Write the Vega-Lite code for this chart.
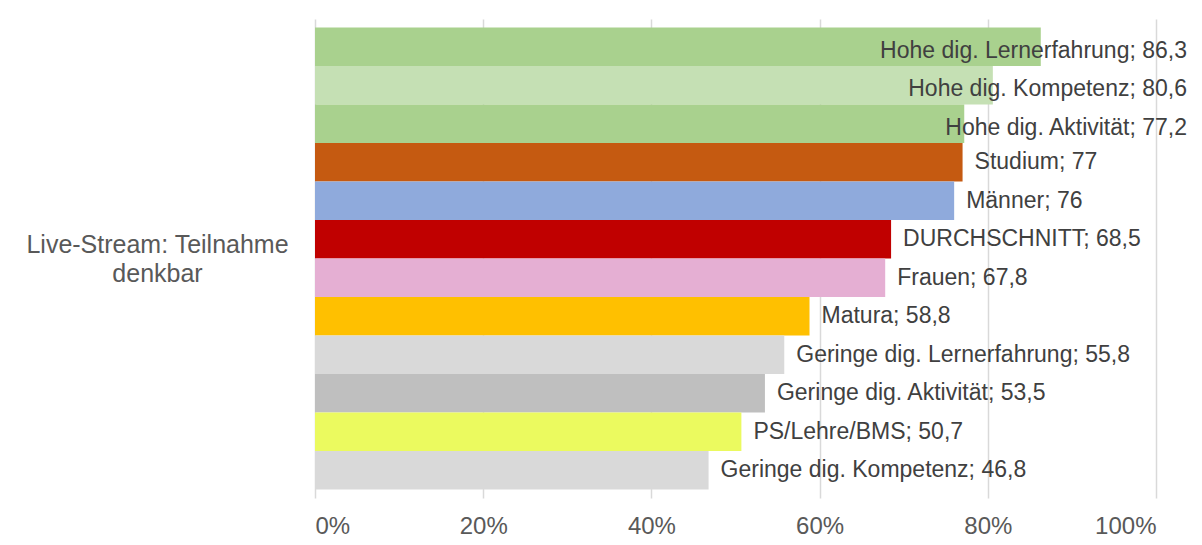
{
  "$schema": "https://vega.github.io/schema/vega-lite/v6.json",
  "width": 841,
  "height": 479,
  "autosize": {"type": "none"},
  "padding": {"left": 315, "top": 19, "right": 46, "bottom": 47},
  "background": "white",
  "config": {"view": {"stroke": null}, "font": "Liberation Sans"},
  "data": {
    "values": [
      {"category": "Live-Stream: Teilnahme\ndenkbar", "group": "Hohe dig. Lernerfahrung", "value": 86.3, "label": "Hohe dig. Lernerfahrung; 86,3"},
      {"category": "Live-Stream: Teilnahme\ndenkbar", "group": "Hohe dig. Kompetenz", "value": 80.6, "label": "Hohe dig. Kompetenz; 80,6"},
      {"category": "Live-Stream: Teilnahme\ndenkbar", "group": "Hohe dig. Aktivität", "value": 77.2, "label": "Hohe dig. Aktivität;  77,2"},
      {"category": "Live-Stream: Teilnahme\ndenkbar", "group": "Studium", "value": 77, "label": "Studium; 77"},
      {"category": "Live-Stream: Teilnahme\ndenkbar", "group": "Männer", "value": 76, "label": "Männer;  76"},
      {"category": "Live-Stream: Teilnahme\ndenkbar", "group": "DURCHSCHNITT", "value": 68.5, "label": "DURCHSCHNITT; 68,5"},
      {"category": "Live-Stream: Teilnahme\ndenkbar", "group": "Frauen", "value": 67.8, "label": "Frauen; 67,8"},
      {"category": "Live-Stream: Teilnahme\ndenkbar", "group": "Matura", "value": 58.8, "label": "Matura;  58,8"},
      {"category": "Live-Stream: Teilnahme\ndenkbar", "group": "Geringe dig. Lernerfahrung", "value": 55.8, "label": "Geringe dig. Lernerfahrung; 55,8"},
      {"category": "Live-Stream: Teilnahme\ndenkbar", "group": "Geringe dig. Aktivität", "value": 53.5, "label": "Geringe dig. Aktivität;  53,5"},
      {"category": "Live-Stream: Teilnahme\ndenkbar", "group": "PS/Lehre/BMS", "value": 50.7, "label": "PS/Lehre/BMS; 50,7"},
      {"category": "Live-Stream: Teilnahme\ndenkbar", "group": "Geringe dig. Kompetenz", "value": 46.8, "label": "Geringe dig. Kompetenz; 46,8"}
    ]
  },
  "encoding": {
    "y": {
      "field": "category",
      "type": "nominal",
      "title": null,
      "scale": {"paddingInner": 0, "paddingOuter": 0.0184},
      "axis": {
        "domain": false,
        "ticks": false,
        "labelAlign": "center",
        "labelBaseline": "middle",
        "labelPadding": 158,
        "labelOffset": -14,
        "labelFontSize": 25,
        "labelColor": "#595959",
        "labelLineHeight": 29,
        "labelLimit": 0,
        "labelExpr": "split(datum.label, '\\n')"
      }
    },
    "yOffset": {
      "field": "group",
      "type": "nominal",
      "sort": ["Hohe dig. Lernerfahrung", "Hohe dig. Kompetenz", "Hohe dig. Aktivität", "Studium", "Männer", "DURCHSCHNITT", "Frauen", "Matura", "Geringe dig. Lernerfahrung", "Geringe dig. Aktivität", "PS/Lehre/BMS", "Geringe dig. Kompetenz"],
      "scale": {"paddingInner": 0, "paddingOuter": 0}
    }
  },
  "layer": [
    {
      "mark": {"type": "bar"},
      "encoding": {
        "x": {
          "field": "value",
          "type": "quantitative",
          "title": null,
          "scale": {"domain": [0, 100]},
          "axis": {
            "values": [0, 20, 40, 60, 80, 100],
            "labelExpr": "datum.value + '%'",
            "grid": true,
            "gridColor": "#D9D9D9",
            "gridWidth": 1.5,
            "domain": false,
            "ticks": false,
            "labelFontSize": 24,
            "labelColor": "#595959",
            "labelPadding": 16
          }
        },
        "color": {
          "field": "group",
          "type": "nominal",
          "legend": null,
          "scale": {
            "domain": ["Hohe dig. Lernerfahrung", "Hohe dig. Kompetenz", "Hohe dig. Aktivität", "Studium", "Männer", "DURCHSCHNITT", "Frauen", "Matura", "Geringe dig. Lernerfahrung", "Geringe dig. Aktivität", "PS/Lehre/BMS", "Geringe dig. Kompetenz"],
            "range": ["#A9D18E", "#C5E0B4", "#A9D18E", "#C55A11", "#8FAADC", "#C00000", "#E5AFD3", "#FFC000", "#D9D9D9", "#BFBFBF", "#EBFA5F", "#D9D9D9"]
          }
        }
      }
    },
    {
      "transform": [{"filter": "datum.value <= 77"}],
      "mark": {"type": "text", "align": "left", "baseline": "middle", "dx": 12, "fontSize": 23, "color": "#404040"},
      "encoding": {
        "x": {"field": "value", "type": "quantitative"},
        "text": {"field": "label"}
      }
    },
    {
      "transform": [{"filter": "datum.value > 77"}],
      "mark": {"type": "text", "align": "right", "baseline": "middle", "dx": 31, "dy": 4, "fontSize": 23, "color": "#404040"},
      "encoding": {
        "x": {"datum": 100},
        "text": {"field": "label"}
      }
    }
  ]
}
